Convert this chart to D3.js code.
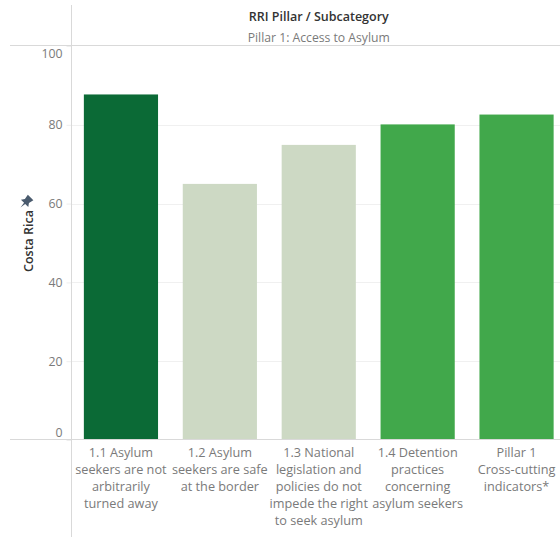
<!DOCTYPE html>
<html>
<head>
<meta charset="utf-8">
<script src="https://cdn.jsdelivr.net/npm/d3@7"></script>
<style>
  html, body { margin: 0; padding: 0; background: #fff; }
  svg { display: block; font-family: "Open Sans", Lato, sans-serif; }
</style>
</head>
<body>
<svg id="chart" width="560" height="537"></svg>
<script>
// RRI scores for Costa Rica, Pillar 1 subcategories
const categories = [
  ["1.1 Asylum", "seekers are not", "arbitrarily", "turned away"],
  ["1.2 Asylum", "seekers are safe", "at the border"],
  ["1.3 National", "legislation and", "policies do not", "impede the right", "to seek asylum"],
  ["1.4 Detention", "practices", "concerning", "asylum seekers"],
  ["Pillar 1", "Cross-cutting", "indicators*"]
];
const scores = [87.7, 65.0, 74.9, 80.1, 82.6];
const barColors = ["#0b6a36", "#cdd9c4", "#cdd9c4", "#41a84b", "#41a84b"];
const yTicks = [0, 20, 40, 60, 80, 100];

const svg = d3.select("#chart");
const W = 560;
const plot = { left: 71.5, right: 566, top: 46, bottom: 440 };

const x = d3.scaleBand()
  .domain(d3.range(categories.length))
  .range([plot.left, plot.right])
  .paddingInner(0.25)
  .paddingOuter(0.125);

const y = d3.scaleLinear().domain([0, 100]).range([plot.bottom, plot.top]);

const lineCol = "#d9d9d9";
const textGrey = "#7a7a7a";

// gridlines
const grid = svg.append("g");
yTicks.filter(t => t > 0 && t < 100).forEach(t => {
  grid.append("line")
    .attr("x1", plot.left).attr("x2", W)
    .attr("y1", Math.round(y(t)) + 0.5).attr("y2", Math.round(y(t)) + 0.5)
    .attr("stroke", "#f0f0f0").attr("stroke-width", 1);
});

// bars
svg.append("g").selectAll("rect")
  .data(scores)
  .join("rect")
  .attr("x", (d, i) => x(i))
  .attr("width", x.bandwidth())
  .attr("y", d => y(d))
  .attr("height", d => y(0) - y(d))
  .attr("fill", (d, i) => barColors[i]);

// y axis ticks and labels
const yAxis = svg.append("g").attr("transform", `translate(${plot.left},0)`)
  .call(d3.axisLeft(y).tickValues(yTicks).tickSize(5).tickPadding(4));
yAxis.select(".domain").remove();
yAxis.selectAll(".tick line").attr("stroke", "#eeeeee");
yAxis.selectAll(".tick text")
  .attr("fill", textGrey)
  .style("font-size", "12.3px")
  .style("font-family", "'Open Sans', sans-serif")
  .attr("dy", d => d === 100 ? "0.95em" : d === 0 ? "-0.25em" : "0.32em");

// frame lines
svg.append("line").attr("x1", plot.left).attr("x2", plot.left)
  .attr("y1", 5).attr("y2", 537).attr("stroke", lineCol);
svg.append("line").attr("x1", 10).attr("x2", W)
  .attr("y1", 45.5).attr("y2", 45.5).attr("stroke", lineCol);
svg.append("line").attr("x1", 10).attr("x2", W)
  .attr("y1", 439.5).attr("y2", 439.5).attr("stroke", lineCol);

// header
const cx = (plot.left + plot.right) / 2;
svg.append("text").attr("x", cx).attr("y", 21)
  .attr("text-anchor", "middle").attr("fill", "#333")
  .style("font-size", "12.5px").style("font-weight", "600")
  .text("RRI Pillar / Subcategory");
svg.append("text").attr("x", cx).attr("y", 41.5)
  .attr("text-anchor", "middle").attr("fill", textGrey)
  .style("font-size", "12.2px")
  .text("Pillar 1: Access to Asylum");

// category labels
const cat = svg.append("g");
categories.forEach((lines, i) => {
  const t = cat.append("text")
    .attr("x", x(i) + x.bandwidth() / 2)
    .attr("y", 456.5)
    .attr("text-anchor", "middle")
    .attr("fill", textGrey)
    .style("font-size", "12.7px");
  lines.forEach((ln, k) => {
    t.append("tspan").attr("x", x(i) + x.bandwidth() / 2)
      .attr("dy", k === 0 ? 0 : 17).text(ln);
  });
});

// row header: country name with pin
svg.append("text")
  .attr("transform", "translate(33,241) rotate(-90)")
  .attr("text-anchor", "middle").attr("fill", "#333")
  .style("font-size", "12.5px").style("font-weight", "600")
  .text("Costa Rica");
svg.append("path")
  .attr("transform", "translate(26,202) rotate(45) scale(1.3)")
  .attr("d", "M-3,-5 L3,-5 L2.2,-1 L4,1.5 L0.6,1.5 L0,6 L-0.6,1.5 L-4,1.5 L-2.2,-1 Z")
  .attr("fill", "#4a5b6e");
</script>
</body>
</html>
